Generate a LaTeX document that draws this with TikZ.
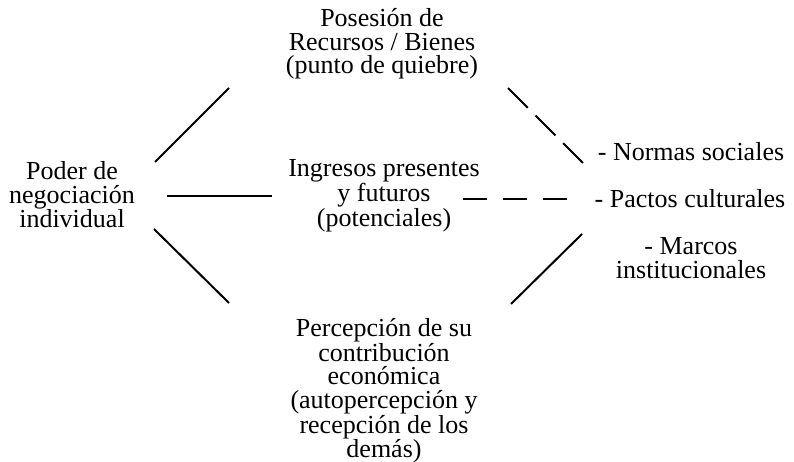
\documentclass[tikz,border=0pt]{standalone}
\usepackage{fontspec}
\setmainfont{Liberation Serif}

\begin{document}
\begin{tikzpicture}[x=1pt, y=-1pt]
  \tikzstyle{box}=[align=center, inner sep=0pt, font=\fontsize{26}{23.5}\selectfont]
  \tikzstyle{link}=[line width=2pt]
  \tikzstyle{dlink}=[link, dash pattern=on 28pt off 11pt]
  \tikzstyle{hlink}=[link, dash pattern=on 24pt off 16pt]

  \useasboundingbox (0,0) rectangle (794,462);

  \node[box] (poder)    at (72,  195) {Poder de\\negociación\\individual};
  \node[box] (posesion) at (382, 44)  {Posesión de\\Recursos / Bienes\\(punto de quiebre)};
  \node[box] (ingresos) at (384, 196) {Ingresos presentes\\y futuros\\(potenciales)};
  \node[box] (percep)   at (384, 391) {Percepción de su\\contribución\\económica\\(autopercepción y\\recepción de los\\demás)};
  \node[box] (normas)   at (691, 152) {- Normas sociales};
  \node[box] (pactos)   at (690, 199) {- Pactos culturales};
  \node[box] (marcos)   at (691, 258) {- Marcos\\institucionales};

  \draw[link]  ([shift={(83,-33)}]poder.center)   -- ([shift={(-153,44)}]posesion.center);
  \draw[link]  ([shift={(95,1)}]poder.center)     -- ([shift={(-112,0)}]ingresos.center);
  \draw[link]  ([shift={(82,34)}]poder.center)    -- ([shift={(-155,-88)}]percep.center);
  \draw[dlink] ([shift={(126,44)}]posesion.center) -- ([shift={(-108,11)}]normas.center);
  \draw[hlink] ([shift={(79,3)}]ingresos.center)  -- ([shift={(-123,0)}]pactos.center);
  \draw[link]  ([shift={(127,-87)}]percep.center)  -- ([shift={(-109,-24)}]marcos.center);
\end{tikzpicture}
\end{document}
